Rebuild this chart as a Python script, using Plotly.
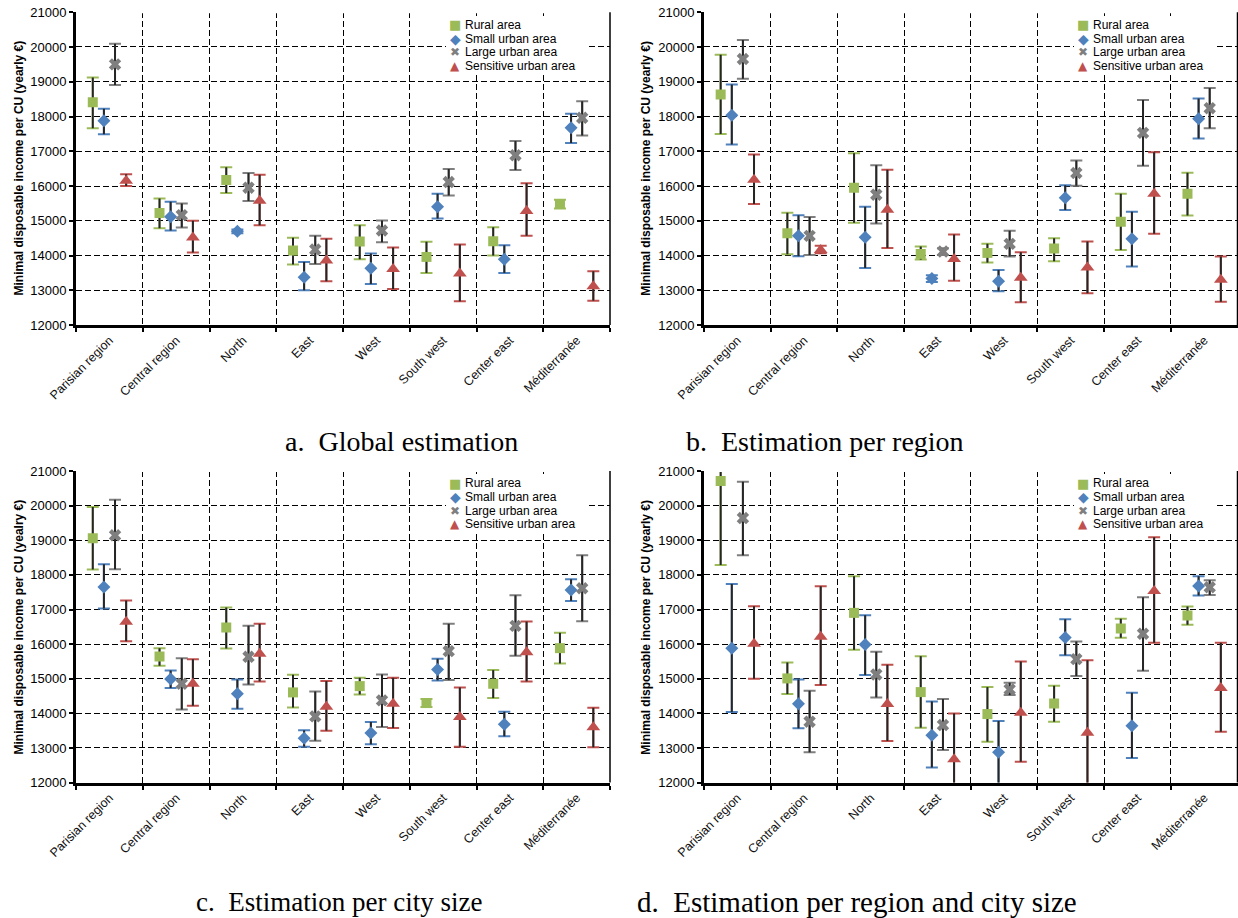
import plotly.graph_objects as go

# ---------------------------------------------------------------- categories
regions = ["Parisian region", "Central region", "North", "East", "West",
           "South west", "Center east", "Méditerranée"]
series_names = ["Rural area", "Small urban area", "Large urban area", "Sensitive urban area"]

# ---------------------------------------------------------------- a. global estimation
a_rural = [18413, 15221, 16173, 14144, 14404, 13962, 14413, 15481]
a_rural_hi = [19125, 15644, 16538, 14510, 14875, 14394, 14817, 15606]
a_rural_lo = [17663, 14788, 15798, 13740, 13894, 13500, 14000, 15356]
a_small = [17875, 15115, 14702, 13375, 13635, 15404, 13894, 17677]
a_small_hi = [18221, 15548, 14750, 13817, 14058, 15779, 14298, 18077]
a_small_lo = [17490, 14721, 14644, 13000, 13183, 15067, 13500, 17240]
a_large = [19500, 15163, 15952, 14173, 14721, 16115, 16885, 17962]
a_large_hi = [20096, 15500, 16375, 14567, 15010, 16490, 17298, 18442]
a_large_lo = [18904, 14808, 15567, 13760, 14385, 15731, 16462, 17452]
a_sens = [16150, 14519, 15577, 13856, 13615, 13481, 15279, 13115]
a_sens_hi = [16337, 15000, 16327, 14481, 14231, 14317, 16077, 13548]
a_sens_lo = [16000, 14087, 14875, 13260, 13038, 12683, 14567, 12702]

# ---------------------------------------------------------------- b. estimation per region
b_rural = [18635, 14644, 15952, 14048, 14077, 14202, 14971, 15779]
b_rural_hi = [19779, 15231, 16942, 14260, 14337, 14500, 15779, 16385]
b_rural_lo = [17500, 14038, 14942, 13885, 13798, 13837, 14163, 15154]
b_small = [18038, 14567, 14529, 13337, 13260, 15663, 14481, 17933]
b_small_hi = [18923, 15163, 15404, 13433, 13587, 16019, 15260, 18519]
b_small_lo = [17192, 13981, 13644, 13240, 12971, 15308, 13683, 17365]
b_large = [19654, 14567, 15750, 14115, 14337, 16375, 17529, 18240]
b_large_hi = [20202, 15106, 16596, 14212, 14712, 16731, 18471, 18817]
b_large_lo = [19087, 14019, 14923, 14019, 13971, 16010, 16587, 17663]
b_sens = [16183, 14163, 15317, 13904, 13365, 13654, 15779, 13308]
b_sens_hi = [16904, 14279, 16471, 14606, 14096, 14404, 16971, 13971]
b_sens_lo = [15481, 14067, 14221, 13279, 12654, 12913, 14625, 12673]

# ---------------------------------------------------------------- c. estimation per city size
c_rural = [19058, 15644, 16481, 14606, 14788, 14298, 14856, 15885]
c_rural_hi = [19962, 15885, 17058, 15115, 15029, 14413, 15250, 16327]
c_rural_lo = [18155, 15375, 15875, 14173, 14548, 14183, 14442, 15442]
c_small = [17654, 14990, 14567, 13279, 13433, 15269, 13683, 17567]
c_small_hi = [18311, 15240, 14981, 13510, 13750, 15577, 14048, 17875]
c_small_lo = [17029, 14731, 14135, 13038, 13106, 14952, 13337, 17250]
c_large = [19145, 14856, 15635, 13913, 14375, 15798, 16529, 17615]
c_large_hi = [20173, 15596, 16529, 14635, 15125, 16587, 17413, 18567]
c_large_lo = [18163, 14115, 14837, 13212, 13606, 14962, 15663, 16663]
c_sens = [16644, 14856, 15721, 14192, 14279, 13894, 15769, 13596]
c_sens_hi = [17260, 15567, 16587, 14933, 15029, 14750, 16654, 14163]
c_sens_lo = [16087, 14221, 14923, 13500, 13577, 13038, 14923, 13019]

# ---------------------------------------------------------------- d. estimation per region and city size
d_rural = [20712, 15010, 16904, 14615, 13981, 14288, 16452, 16827]
d_rural_hi = [23136, 15471, 17962, 15654, 14760, 14798, 16731, 17087]
d_rural_lo = [18288, 14558, 15837, 13587, 13183, 13760, 16183, 16558]
d_small = [15885, 14279, 15990, 13365, 12875, 16192, 13644, 17683]
d_small_hi = [17740, 14981, 16837, 14346, 13779, 16721, 14596, 17962]
d_small_lo = [14038, 13567, 15106, 12433, 11950, 15683, 12712, 17404]
d_large = [19644, 13760, 15125, 13663, 14692, 15567, 16298, 17644]
d_large_hi = [20692, 14654, 15779, 14413, 14885, 16077, 17356, 17846]
d_large_lo = [18567, 12875, 14462, 12942, 14529, 15077, 15231, 17423]
d_sens = [16010, 16212, 14269, 12673, 14019, 13442, 17538, 14731]
d_sens_hi = [17096, 17673, 15404, 14000, 15500, 15538, 19087, 16038]
d_sens_lo = [15000, 14817, 13202, 11346, 12606, 11346, 16038, 13471]

captions = ["a.  Global estimation", "b.  Estimation per region",
            "c.  Estimation per city size", "d.  Estimation per region and city size"]
y_titles = ["Minimal disposable income per CU (yearly €)",
            "Minimal disposable income per CU (yearly €)",
            "Minimal disposable income per CU (yealry €)",
            "Minimal disposable income per CU (yearly €)"]

# ---------------------------------------------------------------- styling
series_colors = ["#9BBB59", "#4F81BD", "#7F7F7F", "#C0504D"]
series_symbols = ["square", "diamond", "x", "triangle-up"]
series_sizes = [10, 10, 11, 12]
legend_glyphs = ["■", "◆", "✖", "▲"]
legend_glyph_sizes = [13, 14, 12, 12]
whisker_color = "#262626"
SANS = "Liberation Sans, Arial, sans-serif"
SERIF = "Liberation Serif, Times New Roman, serif"

W, H = 1238, 918
panel_x = [(76.1, 610.0), (704.0, 1237.5), (76.1, 610.0), (704.0, 1237.5)]
panel_y = [(12.2, 325.1), (12.2, 325.1), (471.1, 782.6), (471.1, 782.6)]
title_x = [18.5, 645.7, 18.5, 645.7]
title_y = [168, 168, 627, 627]
caption_xy = [(401, 442), (825, 442), (339, 902), (857, 902)]
caption_sizes = [28, 28, 27, 29]
legend_x = [455, 1083.3, 455, 1083.3]
legend_y0 = [25, 25, 483.3, 483.3]
legend_row = 13.7


def fx(px):
    return px / W


def fy(py):
    return 1 - py / H


panels = [
    [(a_rural, a_rural_hi, a_rural_lo), (a_small, a_small_hi, a_small_lo),
     (a_large, a_large_hi, a_large_lo), (a_sens, a_sens_hi, a_sens_lo)],
    [(b_rural, b_rural_hi, b_rural_lo), (b_small, b_small_hi, b_small_lo),
     (b_large, b_large_hi, b_large_lo), (b_sens, b_sens_hi, b_sens_lo)],
    [(c_rural, c_rural_hi, c_rural_lo), (c_small, c_small_hi, c_small_lo),
     (c_large, c_large_hi, c_large_lo), (c_sens, c_sens_hi, c_sens_lo)],
    [(d_rural, d_rural_hi, d_rural_lo), (d_small, d_small_hi, d_small_lo),
     (d_large, d_large_hi, d_large_lo), (d_sens, d_sens_hi, d_sens_lo)],
]

fig = go.Figure()
layout = dict(
    template="none",
    width=W, height=H, margin=dict(l=0, r=0, t=0, b=0, pad=0, autoexpand=False),
    paper_bgcolor="white", plot_bgcolor="white",
    showlegend=False, scattermode="group", scattergap=1 / 3,
    font=dict(family=SANS, color="black"),
)
shapes, annotations = [], []


def err(vals, hi, lo):
    return ([h - v for h, v in zip(hi, vals)], [v - l for v, l in zip(vals, lo)])


for p, series in enumerate(panels):
    k = "" if p == 0 else str(p + 1)
    xa, ya = "x" + k, "y" + k

    # coloured caps first (stems get covered by the dark whiskers drawn afterwards)
    for s, (vals, hi, lo) in enumerate(series):
        up, dn = err(vals, hi, lo)
        fig.add_trace(go.Scatter(
            x=regions, y=vals, xaxis=xa, yaxis=ya, mode="markers",
            offsetgroup=series_names[s], hoverinfo="skip",
            marker=dict(size=1, opacity=0),
            error_y=dict(type="data", symmetric=False, array=up, arrayminus=dn,
                         color=series_colors[s], thickness=2, width=6),
        ))
    for s, (vals, hi, lo) in enumerate(series):
        up, dn = err(vals, hi, lo)
        fig.add_trace(go.Scatter(
            x=regions, y=vals, xaxis=xa, yaxis=ya, mode="markers",
            name=series_names[s], offsetgroup=series_names[s],
            marker=dict(symbol=series_symbols[s], size=series_sizes[s],
                        color=series_colors[s], line=dict(width=0)),
            error_y=dict(type="data", symmetric=False, array=up, arrayminus=dn,
                         color=whisker_color, thickness=2, width=0),
        ))

    x0, x1 = panel_x[p]
    yt, yb = panel_y[p]
    xdom = [fx(x0), fx(x1)]
    ydom = [fy(yb), fy(yt)]
    layout["xaxis" + k] = dict(
        domain=xdom, anchor=ya, type="category", automargin=False,
        categoryorder="array", categoryarray=regions, range=[-0.5, 7.5],
        tickson="boundaries", ticks="outside", ticklen=4, tickwidth=2, tickcolor="black",
        showgrid=True, gridcolor="black", gridwidth=1, griddash="6px,3px",
        showline=True, linewidth=3, linecolor="black", zeroline=False,
        tickangle=-45, tickfont=dict(family=SANS, size=12.5, color="#111"),
        fixedrange=True,
    )
    layout["yaxis" + k] = dict(
        domain=ydom, anchor=xa, range=[12000, 21000], automargin=False,
        tick0=12000, dtick=1000, tickformat="d",
        ticks="outside", ticklen=4, tickwidth=1.5, tickcolor="black",
        showgrid=True, gridcolor="black", gridwidth=1, griddash="6px,3px",
        showline=True, linewidth=3, linecolor="black", zeroline=False,
        tickfont=dict(family=SANS, size=13, color="black"), fixedrange=True,
    )

    # no gridline along the top edge; right-hand frame line
    shapes.append(dict(type="line", xref=xa + " domain", yref=ya + " domain",
                       x0=0, x1=1, y0=1, y1=1, line=dict(color="white", width=2),
                       layer="above"))
    shapes.append(dict(type="line", xref=xa + " domain", yref=ya + " domain",
                       x0=1, x1=1, y0=0, y1=1, line=dict(color="black", width=1.5),
                       layer="above"))

    # legend: white box, then glyph + label rows
    lx = legend_x[p]
    ly = legend_y0[p]
    annotations.append(dict(
        xref="paper", yref="paper", x=fx(lx - 9), y=fy(ly - 9), xanchor="left", yanchor="top",
        text=" ", showarrow=False, width=142, height=58, bgcolor="white",
        borderpad=0, borderwidth=0, font=dict(size=1)))
    for s in range(4):
        ry = ly + s * legend_row
        annotations.append(dict(
            xref="paper", yref="paper", x=fx(lx), y=fy(ry), xanchor="center", yanchor="middle",
            text=legend_glyphs[s], showarrow=False,
            font=dict(family="DejaVu Sans", size=legend_glyph_sizes[s], color=series_colors[s])))
        annotations.append(dict(
            xref="paper", yref="paper", x=fx(lx + 8), y=fy(ry), xanchor="left", yanchor="middle",
            text=series_names[s], showarrow=False,
            font=dict(family=SANS, size=12, color="black")))

    # y-axis title
    annotations.append(dict(
        xref="paper", yref="paper", x=fx(title_x[p]), y=fy(title_y[p]),
        xanchor="center", yanchor="middle", textangle=-90, showarrow=False,
        text="<b>" + y_titles[p] + "</b>", font=dict(family=SANS, size=12, color="black")))

    # panel caption
    cx, cy = caption_xy[p]
    annotations.append(dict(
        xref="paper", yref="paper", x=fx(cx), y=fy(cy), xanchor="center", yanchor="middle",
        text=captions[p], showarrow=False,
        font=dict(family=SERIF, size=caption_sizes[p], color="black")))

layout["shapes"] = shapes
layout["annotations"] = annotations
fig.update_layout(**layout)
fig.write_html("out.html")
